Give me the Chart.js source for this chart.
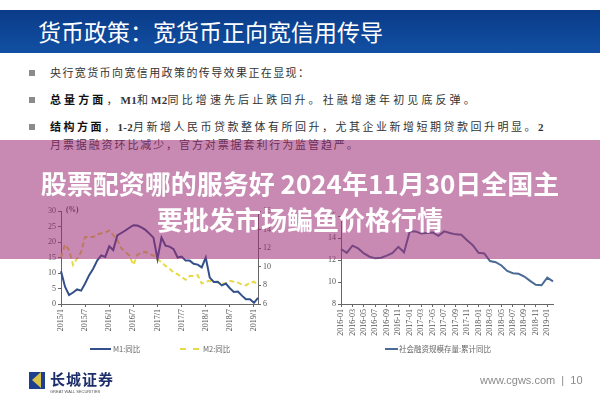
<!DOCTYPE html>
<html><head><meta charset="utf-8">
<script src="https://cdn.jsdelivr.net/npm/chart.js@4.4.1/dist/chart.umd.min.js"></script>
<style>
html,body{margin:0;padding:0;background:#fff;width:600px;height:400px;overflow:hidden;}
#slide{position:relative;width:600px;height:400px;font-family:"Liberation Serif","Noto Sans CJK SC",serif;}
.hdr{position:absolute;left:0;top:10px;width:600px;height:43px;background:linear-gradient(#0a3b88,#1250a4);}
.hdr span{position:absolute;left:38px;top:6px;font-family:"Noto Sans CJK SC",sans-serif;font-size:23px;line-height:30px;color:#fff;}
.bl{position:absolute;left:29px;width:6px;height:6px;background:#8a8a8a;}
.tx{position:absolute;left:50px;font-size:11px;line-height:14px;color:#333;white-space:nowrap;font-family:"Liberation Serif","Noto Sans CJK SC",serif;}
.tx b{font-weight:bold;color:#111;}
.tx i{font-style:normal;font-weight:bold;letter-spacing:0.3px;}
.cv{position:absolute;}
.lg{position:absolute;font-size:7.5px;line-height:10px;color:#666;white-space:nowrap;font-family:"Noto Sans CJK SC",sans-serif;}
.ln{position:absolute;height:0;}
#ov{position:absolute;left:0;top:140px;width:600px;height:119px;background:rgba(155,42,115,0.55);z-index:10;}
#ov div{position:absolute;left:0;width:600px;text-align:center;color:#fff;font-family:"Noto Sans CJK SC",sans-serif;font-weight:bold;font-size:26px;line-height:36px;white-space:nowrap;}
</style></head>
<body><div id="slide">
<div class="hdr"><span>货币政策：宽货币正向宽信用传导</span></div>

<div class="bl" style="top:70px"></div>
<div class="tx" style="top:66px;letter-spacing:1.4px">央行宽货币向宽信用政策的传导效果正在显现：</div>
<div class="bl" style="top:97px"></div>
<div class="tx" style="top:93px;letter-spacing:3.1px"><b>总量方面</b>，<i>M1</i>和<i>M2</i>同比增速先后止跌回升。社融增速年初见底反弹。</div>
<div class="bl" style="top:124px"></div>
<div class="tx" style="top:120px;letter-spacing:2.5px"><b>结构方面</b>，<i>1-2</i>月新增人民币贷款整体有所回升，尤其企业新增短期贷款回升明显。<i>2</i></div>
<div class="tx" style="top:138px;letter-spacing:1.9px">月票据融资环比减少，官方对票据套利行为监管趋严。</div>

<div class="cv" style="left:20px;top:195px;width:270px;height:150px"><canvas id="c1" width="270" height="150"></canvas></div>
<div class="cv" style="left:300px;top:195px;width:280px;height:150px"><canvas id="c2" width="280" height="150"></canvas></div>
<div class="lg" style="left:66px;top:205px;font-family:'Liberation Serif',serif;font-weight:bold;color:#444">(%)</div>

<div class="ln" style="left:90px;top:348px;width:21px;border-top:2px solid #34508a"></div>
<div class="lg" style="left:113px;top:344px">M1:同比</div>
<div class="ln" style="left:180px;top:348px;width:19px;border-top:2px dashed #e6da4a"></div>
<div class="lg" style="left:203px;top:344px">M2:同比</div>
<div class="ln" style="left:385px;top:348px;width:13px;border-top:2px solid #4b6a94"></div>
<div class="lg" style="left:399px;top:344px">社会融资规模存量:累计同比</div>

<div style="position:absolute;left:29px;top:372px;width:16px;height:17px;background:#1d3f8e;overflow:hidden">
  <div style="position:absolute;left:0;top:0;width:0;height:0;border-top:8.5px solid transparent;border-bottom:8.5px solid transparent;border-right:9px solid #d9c24a;left:3px"></div>
</div>
<div style="position:absolute;left:50px;top:370px;font-family:'Noto Sans CJK SC',sans-serif;font-size:15px;line-height:18px;color:#1d2f6a;font-weight:bold;letter-spacing:1px">长城证券</div>
<div style="position:absolute;left:50px;top:389px;font-family:'Liberation Sans',sans-serif;font-size:4px;line-height:5px;color:#555;white-space:nowrap">GREAT WALL SECURITIES</div>
<div style="position:absolute;left:480px;top:373px;font-family:'Liberation Sans',sans-serif;font-size:11px;line-height:14px;color:#8a8a8a;white-space:nowrap">www.cgws.com &nbsp;|&nbsp; 10</div>

<div id="ov">
  <div style="top:25px">股票配资哪的服务好 2024年11月30日全国主</div>
  <div style="top:61px">要批发市场鳊鱼价格行情</div>
</div>
</div>
<script>
// ---- Left chart data (monthly, 2015/1 - 2019/2) ----
const leftMonths = ['2015/1','2015/2','2015/3','2015/4','2015/5','2015/6','2015/7','2015/8','2015/9','2015/10','2015/11','2015/12',
 '2016/1','2016/2','2016/3','2016/4','2016/5','2016/6','2016/7','2016/8','2016/9','2016/10','2016/11','2016/12',
 '2017/1','2017/2','2017/3','2017/4','2017/5','2017/6','2017/7','2017/8','2017/9','2017/10','2017/11','2017/12',
 '2018/1','2018/2','2018/3','2018/4','2018/5','2018/6','2018/7','2018/8','2018/9','2018/10','2018/11','2018/12',
 '2019/1','2019/2'];
const m1Yoy = [10.6,5.6,2.9,3.7,4.7,4.3,6.6,9.3,11.4,14.0,15.7,15.2,
 18.6,17.4,22.1,22.9,23.7,24.6,25.4,25.3,24.7,23.9,22.7,21.4,
 14.5,21.4,18.8,18.5,17.7,15.0,15.3,14.0,14.0,13.0,12.7,11.8,
 15.0,8.5,7.1,7.2,6.0,6.6,5.1,3.9,4.0,2.7,1.5,1.5,
 0.4,2.0];
const m2Yoy = [11.0,12.4,11.8,10.2,10.9,11.6,13.2,13.2,13.2,13.5,13.6,13.7,
 13.9,13.4,12.9,12.0,11.6,11.2,10.2,11.3,11.5,11.6,11.4,11.2,
 10.8,10.5,10.1,9.8,9.4,9.2,8.9,8.6,9.0,9.0,9.1,8.2,
 8.4,8.5,8.4,8.3,8.2,8.2,8.5,8.4,8.3,8.1,8.0,8.3,
 8.4,8.0];
const leftTickLabels = ['2015/1','2015/7','2016/1','2016/7','2017/1','2017/7','2018/1','2018/7','2019/1'];

// ---- Right chart data (monthly, 2016-01 - 2019-02) ----
const rightMonths = ['2016-01','2016-02','2016-03','2016-04','2016-05','2016-06','2016-07','2016-08','2016-09','2016-10','2016-11','2016-12',
 '2017-01','2017-02','2017-03','2017-04','2017-05','2017-06','2017-07','2017-08','2017-09','2017-10','2017-11','2017-12',
 '2018-01','2018-02','2018-03','2018-04','2018-05','2018-06','2018-07','2018-08','2018-09','2018-10','2018-11','2018-12',
 '2019-01','2019-02'];
const tsfYoy = [13.0,12.65,13.3,13.05,12.6,12.3,12.15,12.2,12.4,12.65,13.2,12.7,
 14.6,14.6,14.4,14.45,14.5,14.2,14.6,14.45,14.33,14.3,13.8,13.35,
 12.65,12.6,11.9,11.8,11.5,11.0,10.8,10.75,10.5,10.1,9.75,9.7,
 10.4,10.05];
const rightTickLabels = ['2016-01','2016-03','2016-05','2016-07','2016-09','2016-11','2017-01','2017-03','2017-05','2017-07','2017-09','2017-11',
 '2018-01','2018-03','2018-05','2018-07','2018-09','2018-11','2019-01'];

Chart.defaults.font.family = "'Liberation Serif', serif";
Chart.defaults.font.size = 8;
Chart.defaults.color = '#555';

const axisBorder = {display:true, color:'#666', width:1};
const gridTicks = {drawOnChartArea:false, drawTicks:true, tickLength:3, color:'#666'};

function xAxis(shown){
  return {
    type:'category', offset:false,
    border: axisBorder,
    grid: Object.assign({}, gridTicks),
    ticks:{autoSkip:false, minRotation:90, maxRotation:90, padding:2,
      callback:function(v, i){ const l = this.getLabelForValue(v); return shown.includes(l) ? l : null; }},
    afterFit: s => { s.height = 41; }
  };
}

new Chart(document.getElementById('c1'), {
  type:'line',
  data:{labels:leftMonths, datasets:[
    {label:'M1:同比', data:m1Yoy, yAxisID:'y', borderColor:'#34508a', borderWidth:2, pointRadius:0, tension:0, fill:false},
    {label:'M2:同比', data:m2Yoy, yAxisID:'y1', borderColor:'#e6da4a', borderWidth:2, borderDash:[5,3], pointRadius:0, tension:0, fill:false}
  ]},
  options:{
    responsive:false, animation:false, devicePixelRatio:1,
    layout:{padding:{top:16,left:0,right:0,bottom:0}},
    plugins:{legend:{display:false}, tooltip:{enabled:false}},
    scales:{
      x: xAxis(leftTickLabels),
      y:{position:'left', min:0, max:30, border:axisBorder, grid:Object.assign({},gridTicks),
         ticks:{stepSize:5, padding:2}, afterFit: s => { s.width = 41; }},
      y1:{position:'right', min:6, max:16, border:axisBorder, grid:Object.assign({},gridTicks),
         ticks:{stepSize:1, padding:2}, afterFit: s => { s.width = 32; }}
    }
  }
});

new Chart(document.getElementById('c2'), {
  type:'line',
  data:{labels:rightMonths, datasets:[
    {label:'社会融资规模存量:累计同比', data:tsfYoy, borderColor:'#4b6a94', borderWidth:2, pointRadius:0, tension:0, fill:false}
  ]},
  options:{
    responsive:false, animation:false, devicePixelRatio:1,
    layout:{padding:{top:21,left:0,right:27,bottom:0}},
    plugins:{legend:{display:false}, tooltip:{enabled:false}},
    scales:{
      x: xAxis(rightTickLabels),
      y:{position:'left', min:8, max:16, border:axisBorder, grid:Object.assign({},gridTicks),
         ticks:{stepSize:1, padding:2}, afterFit: s => { s.width = 41; }}
    }
  }
});
</script>
</body></html>
